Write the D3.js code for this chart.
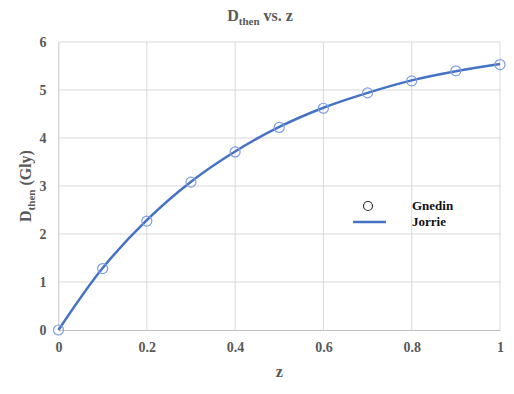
<!DOCTYPE html>
<html>
<head>
<meta charset="utf-8">
<script src="https://cdn.jsdelivr.net/npm/d3@7"></script>
<style>
  body { margin: 0; background: #fff; }
  text { font-family: "Liberation Serif", "Times New Roman", serif; font-weight: bold; }
</style>
</head>
<body>
<div id="chart"></div>
<script>
// data
const zValues = [0, 0.1, 0.2, 0.3, 0.4, 0.5, 0.6, 0.7, 0.8, 0.9, 1.0];
const gnedin = [0, 1.28, 2.27, 3.08, 3.71, 4.22, 4.62, 4.94, 5.19, 5.40, 5.53];
const jorrie = [0, 1.29, 2.29, 3.09, 3.72, 4.23, 4.63, 4.94, 5.20, 5.39, 5.54];
const xTicks = [0, 0.2, 0.4, 0.6, 0.8, 1];
const yTicks = [0, 1, 2, 3, 4, 5, 6];

const W = 514, H = 394;
const margin = { top: 42, right: 14, bottom: 64, left: 58.5 },
      width = W - margin.left - margin.right,
      height = H - margin.top - margin.bottom;

const blue = "#4472C4", grey = "#595959";

const svg = d3.select("#chart").append("svg")
  .attr("width", W).attr("height", H);

const g = svg.append("g")
  .attr("transform", `translate(${margin.left},${margin.top})`);

const x = d3.scaleLinear().domain([0, 1]).range([0, width]);
const y = d3.scaleLinear().domain([0, 6]).range([height, 0]);

// gridlines
g.append("g").selectAll("line.h")
  .data(yTicks.slice(1)).enter().append("line")
  .attr("x1", 0).attr("x2", width)
  .attr("y1", d => y(d)).attr("y2", d => y(d))
  .attr("stroke", "#d9d9d9").attr("stroke-width", 1);

g.append("g").selectAll("line.v")
  .data(xTicks).enter().append("line")
  .attr("x1", d => x(d)).attr("x2", d => x(d))
  .attr("y1", 0).attr("y2", height)
  .attr("stroke", "#d9d9d9").attr("stroke-width", 1);

// axes
const xAxis = g.append("g")
  .attr("transform", `translate(0,${height})`)
  .call(d3.axisBottom(x).tickValues(xTicks).tickSize(0).tickPadding(12)
    .tickFormat(d3.format("")));
xAxis.select(".domain").attr("stroke", "#bfbfbf");

const yAxis = g.append("g")
  .call(d3.axisLeft(y).tickValues(yTicks).tickSize(0).tickPadding(12)
    .tickFormat(d3.format("d")));
yAxis.select(".domain").attr("stroke", "#d9d9d9");

g.selectAll(".tick text")
  .attr("fill", grey)
  .style("font-size", "14px")
  .style("font-family", "Liberation Serif, serif")
  .style("font-weight", "bold");

// Jorrie curve
const pts = zValues.map((z, i) => ({ z, v: jorrie[i] }));
g.append("path")
  .datum(pts)
  .attr("fill", "none")
  .attr("stroke", blue)
  .attr("stroke-width", 2.5)
  .attr("d", d3.line().x(d => x(d.z)).y(d => y(d.v)).curve(d3.curveCatmullRom));

// Gnedin markers
g.selectAll("circle.gn")
  .data(zValues.map((z, i) => ({ z, v: gnedin[i] })))
  .enter().append("circle")
  .attr("cx", d => x(d.z)).attr("cy", d => y(d.v))
  .attr("r", 5)
  .attr("fill", "none")
  .attr("stroke", "#7f9ee0")
  .attr("stroke-width", 1.2);

// title
const title = svg.append("text")
  .attr("x", 260).attr("y", 21)
  .attr("text-anchor", "middle")
  .attr("fill", grey)
  .style("font-size", "16px");
title.append("tspan").text("D");
title.append("tspan").attr("dy", 4).style("font-size", "11px").text("then");
title.append("tspan").attr("dy", -4).text(" vs. z");

// x axis title
svg.append("text")
  .attr("x", margin.left + width / 2).attr("y", 377)
  .attr("text-anchor", "middle")
  .attr("fill", grey)
  .style("font-size", "16px")
  .text("z");

// y axis title
const yt = svg.append("text")
  .attr("transform", `translate(31,${margin.top + height / 2}) rotate(-90)`)
  .attr("text-anchor", "middle")
  .attr("fill", grey)
  .style("font-size", "16px");
yt.append("tspan").text("D");
yt.append("tspan").attr("dy", 4).style("font-size", "11px").text("then");
yt.append("tspan").attr("dy", -4).text(" (Gly)");

// legend
const lg = svg.append("g");
lg.append("circle")
  .attr("cx", 368).attr("cy", 206).attr("r", 4.5)
  .attr("fill", "none").attr("stroke", "#333").attr("stroke-width", 1.2);
lg.append("line")
  .attr("x1", 353).attr("x2", 386).attr("y1", 222).attr("y2", 222)
  .attr("stroke", blue).attr("stroke-width", 2.5);
lg.append("text").attr("x", 412).attr("y", 210)
  .attr("fill", "#111").style("font-size", "13px").text("Gnedin");
lg.append("text").attr("x", 412).attr("y", 226)
  .attr("fill", "#111").style("font-size", "13px").text("Jorrie");
</script>
</body>
</html>
